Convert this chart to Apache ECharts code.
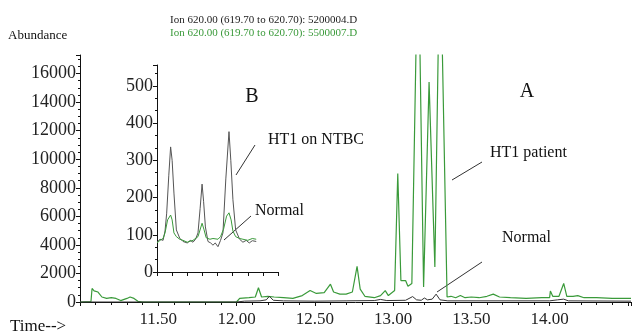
<!DOCTYPE html>
<html>
<head>
<meta charset="utf-8">
<script src="https://cdn.jsdelivr.net/npm/echarts@6/dist/echarts.min.js"></script>
<style>
  html, body { margin: 0; padding: 0; background: #fff; }
  #chart { width: 633px; height: 336px; }
</style>
</head>
<body>
<div id="chart"></div>
<script>
// main trace, HT1 patient (green), [time min, abundance]
var patientTrace = [
  [11.00, 0], [11.07, 30], [11.077, 950], [11.09, 780], [11.10, 650], [11.115, 700],
  [11.14, 350], [11.17, 250], [11.20, 300], [11.23, 250], [11.26, 100], [11.30, 250],
  [11.32, 350], [11.345, 250], [11.37, 50], [11.40, 0], [12.00, 0], [12.02, 250],
  [12.08, 300], [12.12, 350], [12.14, 1000], [12.16, 350], [12.20, 400], [12.24, 350],
  [12.30, 300], [12.36, 250], [12.42, 450], [12.47, 800], [12.51, 600], [12.56, 650],
  [12.60, 1250], [12.62, 700], [12.66, 550], [12.70, 550], [12.74, 700], [12.77, 2500],
  [12.79, 900], [12.82, 400], [12.88, 300], [12.92, 450], [12.95, 800], [12.97, 450],
  [13.01, 800], [13.03, 9000], [13.05, 1500], [13.08, 1500], [13.095, 1100], [13.12, 1300],
  [13.16, 26000], [13.195, 1050], [13.23, 15400], [13.267, 2450], [13.30, 26000],
  [13.345, 350], [13.37, 400], [13.40, 300], [13.43, 450], [13.46, 300], [13.50, 350],
  [13.55, 300], [13.60, 400], [13.64, 550], [13.68, 350], [13.75, 300], [13.85, 250],
  [13.95, 300], [14.00, 300], [14.005, 770], [14.02, 400], [14.06, 400], [14.09, 1300],
  [14.11, 400], [14.15, 400], [14.18, 450], [14.22, 300], [14.30, 300], [14.40, 250],
  [14.52, 250]
];

// main trace, Normal (black)
var normalTrace = [
  [11.00, 0], [12.00, 0], [12.05, 60], [12.15, 80], [12.19, 150], [12.21, 400],
  [12.235, 120], [12.30, 80], [12.50, 60], [12.70, 80], [12.88, 100], [12.92, 180],
  [12.96, 100], [13.08, 120], [13.125, 380], [13.15, 150], [13.18, 120], [13.20, 280],
  [13.22, 150], [13.25, 200], [13.275, 550], [13.30, 150], [13.35, 80], [13.60, 80],
  [14.00, 80], [14.05, 150], [14.09, 200], [14.12, 80], [14.52, 60]
];

// inset B, HT1 on NTBC (black)
var insetNtbc = [
  [0, 80], [0.2, 88], [0.4, 85], [0.53, 110], [0.64, 158], [0.78, 260], [0.90, 336],
  [1.0, 300], [1.12, 212], [1.28, 113], [1.5, 91], [1.72, 82], [2.0, 78], [2.2, 85],
  [2.38, 80], [2.55, 88], [2.71, 105], [2.85, 170], [2.98, 236], [3.08, 190], [3.2, 121],
  [3.37, 82], [3.55, 78], [3.7, 72], [3.85, 78], [4.03, 68], [4.2, 85], [4.36, 105],
  [4.55, 250], [4.76, 377], [4.88, 300], [5.02, 194], [5.2, 113], [5.46, 88], [5.68, 80],
  [5.9, 85], [6.1, 78], [6.3, 84], [6.56, 82]
];

// inset B, Normal (green)
var insetNormal = [
  [0, 78], [0.2, 85], [0.4, 90], [0.53, 105], [0.7, 140], [0.9, 153], [1.0, 140],
  [1.12, 105], [1.28, 95], [1.5, 88], [1.72, 85], [2.0, 80], [2.38, 85], [2.71, 95],
  [2.98, 131], [3.1, 115], [3.25, 92], [3.5, 88], [3.7, 90], [4.03, 88], [4.2, 95],
  [4.4, 115], [4.6, 150], [4.76, 159], [4.9, 140], [5.02, 110], [5.2, 95], [5.46, 90],
  [5.68, 88], [6.0, 85], [6.3, 90], [6.56, 88]
];

var titleLines = [
  'Ion 620.00 (619.70 to 620.70): 5200004.D',
  'Ion 620.00 (619.70 to 620.70): 5500007.D'
];

var serif = 'Liberation Serif';
var green = '#3a9a3a';
var black = '#333';

function txt(text, x, y, size, color, align) {
  return {
    type: 'text',
    style: {
      text: text, x: x, y: y,
      font: size + 'px "' + serif + '"',
      fill: color || '#111',
      align: align || 'left', verticalAlign: 'middle',
      textAlign: align || 'left', textVerticalAlign: 'middle'
    }
  };
}
function ln(x1, y1, x2, y2) {
  return { type: 'line', shape: { x1: x1, y1: y1, x2: x2, y2: y2 }, style: { stroke: '#333', lineWidth: 1 } };
}

var axisCommon = {
  axisLine: { show: true, lineStyle: { color: '#111', width: 1 } },
  axisTick: { show: true, inside: false, length: 4, lineStyle: { color: '#111' } },
  minorTick: { show: true, length: 2, lineStyle: { color: '#111' } },
  splitLine: { show: false }
};

var option = {
  animation: false,
  backgroundColor: '#fff',
  grid: [
    { left: 80, top: 55, right: 2, bottom: 34, outerBoundsMode: 'none', containLabel: false },
    { left: 157, top: 65, width: 121, height: 207, outerBoundsMode: 'none', containLabel: false }
  ],
  xAxis: [
    Object.assign({}, axisCommon, {
      type: 'value', gridIndex: 0, min: 11, max: 14.52, interval: 0.5,
      minorTick: { show: true, splitNumber: 5, length: 3, lineStyle: { color: '#111' } },
      axisLabel: {
        fontFamily: serif, fontSize: 17, color: '#222', margin: 9,
        showMinLabel: false, showMaxLabel: false,
        formatter: function (v) { return (v > 11.2 && v < 14.3) ? v.toFixed(2) : ''; }
      }
    }),
    Object.assign({}, axisCommon, {
      type: 'value', gridIndex: 1, min: 0, max: 8, interval: 1,
      minorTick: { show: false },
      axisLabel: { show: false }
    })
  ],
  yAxis: [
    Object.assign({}, axisCommon, {
      type: 'value', gridIndex: 0, min: 0, max: 17300, interval: 2000,
      minorTick: { show: true, splitNumber: 4, length: 2, lineStyle: { color: '#111' } },
      axisLabel: {
        fontFamily: serif, fontSize: 18, color: '#222', margin: 4, showMaxLabel: false,
        formatter: function (v) { return v <= 16000 ? String(v) : ''; }
      }
    }),
    Object.assign({}, axisCommon, {
      type: 'value', gridIndex: 1, min: 0, max: 556, interval: 100,
      minorTick: { show: true, splitNumber: 3, length: 2, lineStyle: { color: '#111' } },
      axisLabel: {
        fontFamily: serif, fontSize: 18, color: '#222', margin: 4, showMaxLabel: false,
        formatter: function (v) { return v <= 500 ? String(v) : ''; }
      }
    })
  ],
  series: [
    { type: 'line', xAxisIndex: 0, yAxisIndex: 0, data: normalTrace, showSymbol: false,
      lineStyle: { color: black, width: 1 }, z: 3 },
    { type: 'line', xAxisIndex: 0, yAxisIndex: 0, data: patientTrace, showSymbol: false,
      lineStyle: { color: green, width: 1.2 }, z: 2 },
    { type: 'line', xAxisIndex: 1, yAxisIndex: 1, data: insetNtbc, showSymbol: false,
      lineStyle: { color: '#555', width: 1 } },
    { type: 'line', xAxisIndex: 1, yAxisIndex: 1, data: insetNormal, showSymbol: false,
      lineStyle: { color: green, width: 1 } }
  ],
  graphic: [
    txt(titleLines[0], 170, 20, 11, '#222'),
    txt(titleLines[1], 170, 33, 11, green),
    txt('Abundance', 8, 36, 13, '#111'),
    txt('Time-->', 10, 327, 17, '#111'),
    txt('B', 252, 97, 20, '#111', 'center'),
    txt('A', 527, 92, 20, '#111', 'center'),
    txt('HT1 on NTBC', 268, 140, 16, '#111'),
    txt('HT1 patient', 490, 153, 16, '#111'),
    txt('Normal', 255, 211, 16, '#111'),
    txt('Normal', 502, 238, 16, '#111'),
    ln(255, 145, 236, 175),
    ln(482, 162, 452, 180),
    ln(251, 216, 224, 240),
    ln(482, 262, 437, 292)
  ]
};

var chart = echarts.init(document.getElementById('chart'));
chart.setOption(option);
</script>
</body>
</html>
